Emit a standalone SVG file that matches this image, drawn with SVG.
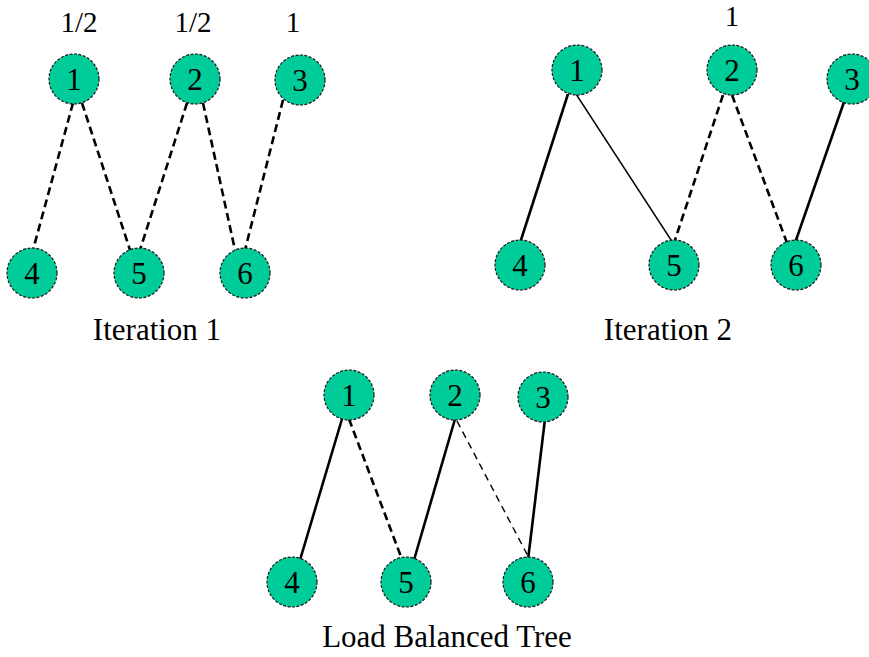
<svg xmlns="http://www.w3.org/2000/svg" width="869" height="657" viewBox="0 0 869 657">
  <style>
    text { font-family: 'Liberation Serif', 'Times New Roman', serif; fill: #000; text-anchor: middle; }
    .node circle { fill: #00CC99; stroke: #1a1a1a; stroke-width: 1.2; stroke-dasharray: 3 1.5; }
    .node text { font-size: 31px; }
    .lbl { font-size: 29px; }
    .cap { font-size: 31px; }
    .e { stroke: #000; fill: none; stroke-linecap: butt; }
    .dash { stroke-width: 2.6; stroke-dasharray: 8 4.5; }
    .thin-dash { stroke-width: 1.4; stroke-dasharray: 7 5; }
    .solid { stroke-width: 2.6; }
    .thin { stroke-width: 1.4; }
  </style>
  <rect width="869" height="657" fill="#fff"/>

  <!-- connectors -->
  <g id="connectors">
    <!-- Iteration 1 -->
    <line class="e dash" x1="73" y1="103" x2="33" y2="250"/>
    <line class="e dash" x1="82" y1="103" x2="130" y2="250"/>
    <line class="e dash" x1="187" y1="103" x2="140" y2="250"/>
    <line class="e dash" x1="203" y1="103" x2="235" y2="250"/>
    <line class="e dash" x1="283" y1="100" x2="245" y2="250"/>
    <!-- Iteration 2 -->
    <line class="e solid" x1="568" y1="94" x2="520" y2="243"/>
    <line class="e thin" x1="576" y1="94" x2="673" y2="243"/>
    <line class="e dash" x1="723" y1="95" x2="674" y2="243"/>
    <line class="e dash" x1="732" y1="95" x2="787" y2="243"/>
    <line class="e solid" x1="844" y1="102" x2="795" y2="243"/>
    <!-- Load balanced tree -->
    <line class="e solid" x1="342" y1="419" x2="300" y2="560"/>
    <line class="e dash" x1="349" y1="419" x2="403" y2="562"/>
    <line class="e solid" x1="455" y1="419" x2="414" y2="560"/>
    <line class="e thin-dash" x1="457" y1="421" x2="529" y2="558"/>
    <line class="e solid" x1="545" y1="419" x2="528" y2="560"/>
  </g>

  <!-- Iteration 1 -->
  <text class="lbl" x="79" y="32">1/2</text>
  <text class="lbl" x="193" y="32">1/2</text>
  <text class="lbl" x="293" y="32">1</text>
  <g id="a1" class="node"><circle cx="74" cy="79" r="25"/><text x="74" y="90">1</text></g>
  <g id="a2" class="node"><circle cx="195" cy="79" r="25"/><text x="195" y="90">2</text></g>
  <g id="a3" class="node"><circle cx="300" cy="80" r="25"/><text x="300" y="91">3</text></g>
  <g id="a4" class="node"><circle cx="32" cy="273" r="25"/><text x="32" y="284">4</text></g>
  <g id="a5" class="node"><circle cx="139" cy="273" r="25"/><text x="139" y="284">5</text></g>
  <g id="a6" class="node"><circle cx="245" cy="273" r="25"/><text x="245" y="284">6</text></g>
  <text class="cap" x="157" y="340">Iteration 1</text>

  <!-- Iteration 2 -->
  <text class="lbl" x="732" y="26">1</text>
  <g id="b1" class="node"><circle cx="577" cy="70" r="25"/><text x="577" y="81">1</text></g>
  <g id="b2" class="node"><circle cx="732" cy="70" r="25"/><text x="732" y="81">2</text></g>
  <g id="b3" class="node"><circle cx="852" cy="79" r="25"/><text x="852" y="90">3</text></g>
  <g id="b4" class="node"><circle cx="520" cy="265" r="25"/><text x="520" y="276">4</text></g>
  <g id="b5" class="node"><circle cx="674" cy="265" r="25"/><text x="674" y="276">5</text></g>
  <g id="b6" class="node"><circle cx="796" cy="265" r="25"/><text x="796" y="276">6</text></g>
  <text class="cap" x="668" y="340">Iteration 2</text>

  <!-- Load balanced tree -->
  <g id="c1" class="node"><circle cx="349" cy="395" r="25"/><text x="349" y="406">1</text></g>
  <g id="c2" class="node"><circle cx="455" cy="395" r="25"/><text x="455" y="406">2</text></g>
  <g id="c3" class="node"><circle cx="543" cy="397" r="25"/><text x="543" y="408">3</text></g>
  <g id="c4" class="node"><circle cx="292" cy="582" r="25"/><text x="292" y="593">4</text></g>
  <g id="c5" class="node"><circle cx="406" cy="582" r="25"/><text x="406" y="593">5</text></g>
  <g id="c6" class="node"><circle cx="528" cy="582" r="25"/><text x="528" y="593">6</text></g>
  <text class="cap" x="447" y="647">Load Balanced Tree</text>
</svg>
